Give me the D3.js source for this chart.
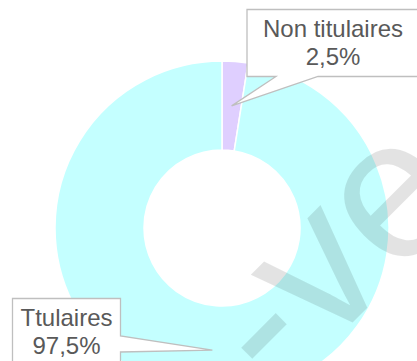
<!DOCTYPE html>
<html>
<head>
<meta charset="utf-8">
<script src="https://cdn.jsdelivr.net/npm/d3@7/dist/d3.min.js"></script>
<style>
  html, body { margin: 0; padding: 0; background: #fff; }
  svg { display: block; }
</style>
</head>
<body>
<svg id="chart" width="417" height="361"></svg>
<script>
// Staff breakdown by status
const categories = ["Non titulaires", "Ttulaires"];
const values = [2.5, 97.5];
const colors = ["#DFCFFF", "#C4FFFF"];

const W = 417, H = 361;
const cx = 222, cy = 228;
const outerR = 167, innerR = 78;

const svg = d3.select("#chart");
const fr = d3.formatLocale({ decimal: ",", thousands: " ", grouping: [3], currency: ["", "€"] });
const pct = v => fr.format(".1f")(v) + "%";

const pie = d3.pie().sort(null).value(d => d);
const arcs = pie(values);
const arc = d3.arc().innerRadius(innerR).outerRadius(outerR);

const g = svg.append("g").attr("transform", `translate(${cx},${cy})`);
g.selectAll("path")
  .data(arcs)
  .join("path")
  .attr("d", arc)
  .attr("fill", (d, i) => colors[i])
  .attr("stroke", "#fff")
  .attr("stroke-width", 1.5);

// Callout boxes: rectangle with a wedge pointing at the slice centroid
const boxes = [
  { x0: 247, y0: 9.5, x1: 419, y1: 76.5, side: "bottom", a: 276, b: 318 },
  { x0: 12.5, y0: 298.5, x1: 120.5, y1: 364, side: "right", a: 336, b: 352 }
];

const fontSize = 24;
arcs.forEach((d, i) => {
  const c = arc.centroid(d);
  const tx = cx + c[0], ty = cy + c[1];
  const b = boxes[i];
  let pts;
  if (b.side === "bottom") {
    pts = [[b.x0, b.y0], [b.x1, b.y0], [b.x1, b.y1], [b.b, b.y1], [tx, ty], [b.a, b.y1], [b.x0, b.y1]];
  } else {
    pts = [[b.x0, b.y0], [b.x1, b.y0], [b.x1, b.a], [tx, ty], [b.x1, b.b], [b.x1, b.y1], [b.x0, b.y1]];
  }
  svg.append("path")
    .attr("d", d3.line()(pts) + "Z")
    .attr("fill", "#fff")
    .attr("stroke", "#BFBFBF")
    .attr("stroke-width", 1.3);

  const mx = (b.x0 + b.x1) / 2;
  const t = svg.append("text")
    .attr("text-anchor", "middle")
    .attr("font-family", "'Liberation Sans', Arial, sans-serif")
    .attr("font-size", fontSize)
    .attr("fill", "#595959");
  t.append("tspan").attr("x", mx).attr("y", b.y0 + 27.5).text(categories[i]);
  t.append("tspan").attr("x", mx).attr("y", b.y0 + 55.5).text(pct(d.data));
});

// Faint diagonal watermark
svg.append("text")
  .attr("transform", "translate(278,397) rotate(-45)")
  .attr("font-family", "'Liberation Sans', Arial, sans-serif")
  .attr("font-size", 200)
  .attr("fill", "#000")
  .attr("fill-opacity", 0.11)
  .text("-ve");
</script>
</body>
</html>
